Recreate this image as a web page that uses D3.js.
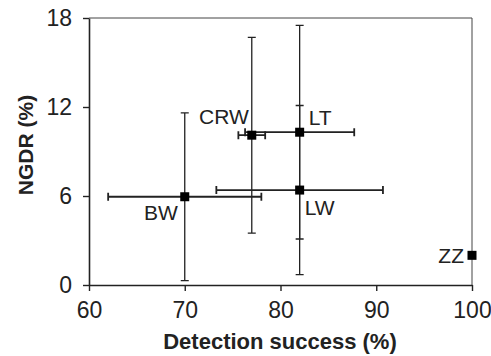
<!DOCTYPE html>
<html>
<head>
<meta charset="utf-8">
<script src="https://cdn.jsdelivr.net/npm/d3@7"></script>
<style>
  html, body { margin: 0; padding: 0; background: #fff; }
  svg { display: block; font-family: "Liberation Sans", Arial, sans-serif; }
</style>
</head>
<body>
<svg width="491" height="356"></svg>
<script>
var sites = ["BW", "CRW", "LT", "LW", "ZZ"];
var detection = [70, 77, 82, 82, 100];
var detectionErr = [8, 1.4, 5.7, 8.7, 0];
var ngdr = [5.95, 10.1, 10.3, 6.4, 2.0];
var ngdrErr = [5.65, 6.6, 7.2, 5.7, 0];

var xTicks = [60, 70, 80, 90, 100];
var yTicks = [0, 6, 12, 18];

var width = 491;
var height = 356;
var margin = { left: 89, right: 19, top: 18, bottom: 71 };

// label placement relative to the point (anchor, dx, dy)
var labelPos = {
  BW:  ["end", -7, 23],
  CRW: ["end", -3, -11],
  LT:  ["start", 9, -7],
  LW:  ["start", 5, 25],
  ZZ:  ["end", -8, 8]
};

var data = sites.map((s, i) => ({
  site: s,
  x: detection[i],
  xe: detectionErr[i],
  y: ngdr[i],
  ye: ngdrErr[i]
}));

var xScale = d3.scaleLinear()
  .domain([60, 100])
  .range([margin.left, width - margin.right]);

var yScale = d3.scaleLinear()
  .domain([0, 18])
  .range([height - margin.bottom, margin.top]);

var svg = d3.select("svg");
var ink = "#222";

// frame (top + right)
svg.append("path")
  .attr("d", `M${xScale(60)},${yScale(18)}H${xScale(100)}V${yScale(0)}`)
  .attr("fill", "none")
  .attr("stroke", "#444")
  .attr("stroke-width", 1);

// Axes
var xAxis = d3.axisBottom(xScale).tickValues(xTicks).tickSize(6).tickSizeOuter(0);
var yAxis = d3.axisLeft(yScale).tickValues(yTicks).tickSize(6).tickSizeOuter(0);

var gx = svg.append("g")
  .attr("transform", `translate(0, ${yScale(0)})`)
  .call(xAxis);

var gy = svg.append("g")
  .attr("transform", `translate(${xScale(60)}, 0)`)
  .call(yAxis);

[gx, gy].forEach(g => {
  g.select(".domain").attr("stroke", ink).attr("stroke-width", 1.6);
  g.selectAll(".tick line").attr("stroke", ink).attr("stroke-width", 1.4);
  g.selectAll(".tick text")
    .attr("fill", ink)
    .style("font-size", "23px")
    .style("font-family", "'Liberation Sans', Arial, sans-serif");
});
gx.selectAll(".tick text").attr("y", 16.5);
gy.selectAll(".tick text").attr("x", -17);

// X-axis label
svg.append("text")
  .attr("x", 280)
  .attr("y", 349)
  .attr("text-anchor", "middle")
  .attr("fill", ink)
  .style("font-size", "22px")
  .style("font-weight", "bold")
  .text("Detection success (%)");

// Y-axis label
svg.append("text")
  .attr("transform", "rotate(-90)")
  .attr("x", -145)
  .attr("y", 33)
  .attr("text-anchor", "middle")
  .attr("fill", ink)
  .style("font-size", "21px")
  .style("font-weight", "bold")
  .text("NGDR (%)");

// Error bars
var bars = svg.append("g").attr("stroke", ink).attr("fill", "none");
var cap = 4;

data.filter(d => d.ye > 0).forEach(d => {
  var cx = xScale(d.x);
  bars.append("path")
    .attr("stroke-width", 1.3)
    .attr("d",
      `M${cx},${yScale(d.y - d.ye)}V${yScale(d.y + d.ye)}` +
      `M${cx - cap},${yScale(d.y - d.ye)}h${2 * cap}` +
      `M${cx - cap},${yScale(d.y + d.ye)}h${2 * cap}`);
});

data.filter(d => d.xe > 0).forEach(d => {
  var cy = yScale(d.y);
  bars.append("path")
    .attr("stroke-width", 1.8)
    .attr("d",
      `M${xScale(d.x - d.xe)},${cy}H${xScale(d.x + d.xe)}` +
      `M${xScale(d.x - d.xe)},${cy - cap}v${2 * cap}` +
      `M${xScale(d.x + d.xe)},${cy - cap}v${2 * cap}`);
});

// Data points
svg.append("g")
  .selectAll("rect")
  .data(data)
  .enter()
  .append("rect")
    .attr("x", d => xScale(d.x) - 4.5)
    .attr("y", d => yScale(d.y) - 4.5)
    .attr("width", 9)
    .attr("height", 9)
    .attr("fill", "#000");

// Point labels
svg.append("g")
  .selectAll("text")
  .data(data)
  .enter()
  .append("text")
    .attr("x", d => xScale(d.x) + labelPos[d.site][1])
    .attr("y", d => yScale(d.y) + labelPos[d.site][2])
    .attr("text-anchor", d => labelPos[d.site][0])
    .attr("fill", ink)
    .style("font-size", "21px")
    .text(d => d.site);
</script>
</body>
</html>
